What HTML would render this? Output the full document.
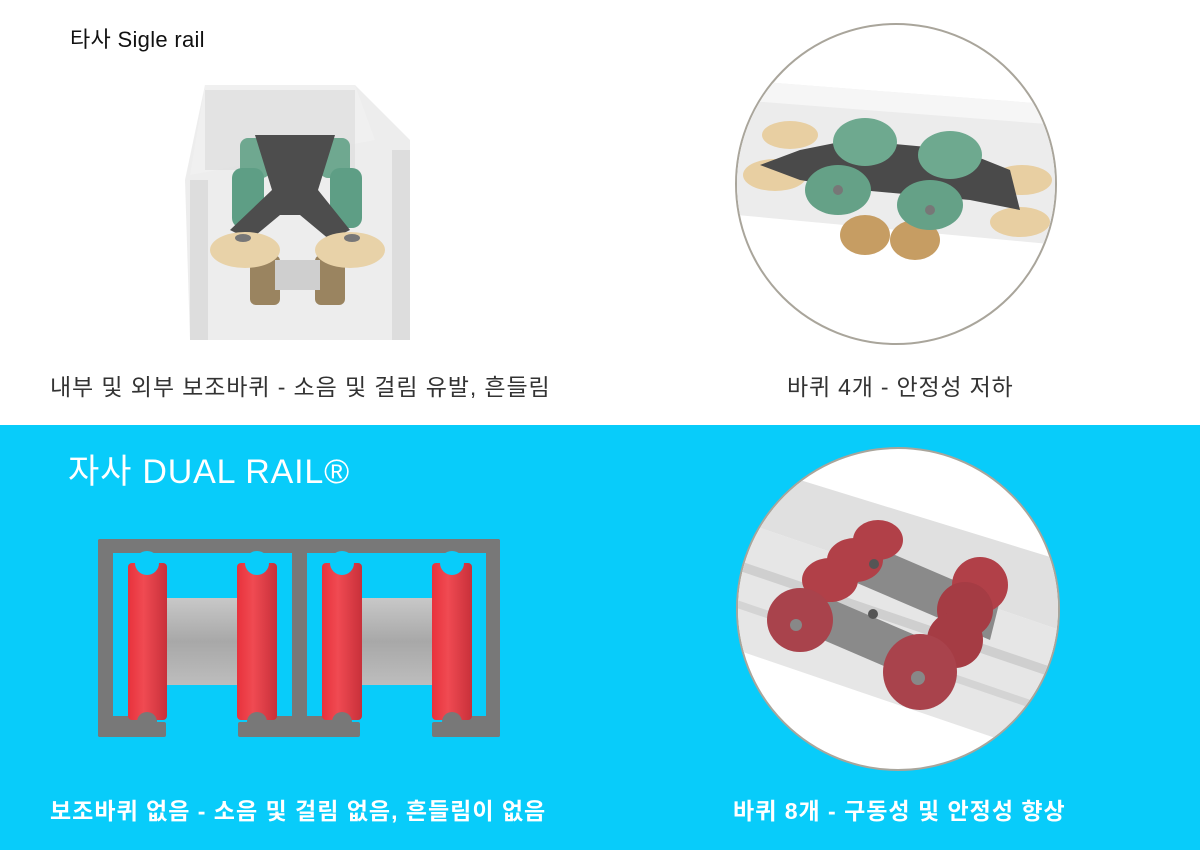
<!DOCTYPE html>
<html><head><meta charset="utf-8"><style>
html,body{margin:0;padding:0;}
body{width:1200px;height:850px;position:relative;overflow:hidden;background:#fff;font-family:"Liberation Sans","Noto Sans CJK KR",sans-serif;}
.t{position:absolute;white-space:nowrap;}
</style></head><body>
<svg width="1200" height="850" style="position:absolute;left:0;top:0">
<defs>
<linearGradient id="red" x1="0" x2="1"><stop offset="0" stop-color="#e8323c"/><stop offset="0.4" stop-color="#f04a52"/><stop offset="1" stop-color="#c8303a"/></linearGradient>
<linearGradient id="hub" x1="0" y1="0" x2="0" y2="1"><stop offset="0" stop-color="#c8c8c8"/><stop offset="0.5" stop-color="#a8a8a8"/><stop offset="1" stop-color="#bdbdbd"/></linearGradient>
<clipPath id="c1"><circle cx="896" cy="184" r="159"/></clipPath>
<clipPath id="c2"><circle cx="898" cy="609" r="160"/></clipPath>
</defs>
<rect x="0" y="425" width="1200" height="425" fill="#08ccfa"/>

<g>
<polygon points="205,85 355,85 410,140 410,340 190,340 185,180" fill="#e6e6e6" opacity="0.7"/>
<polygon points="205,85 355,85 375,140 190,175" fill="#f0f0f0"/>
<rect x="205" y="90" width="150" height="80" fill="#dadada" opacity="0.6"/>
<rect x="240" y="138" width="30" height="40" rx="8" fill="#6fa890"/>
<rect x="320" y="138" width="30" height="40" rx="8" fill="#6fa890"/>
<rect x="232" y="168" width="32" height="60" rx="10" fill="#5e9e85"/>
<rect x="330" y="168" width="32" height="60" rx="10" fill="#5e9e85"/>
<path d="M255,135 L335,135 L318,190 L350,230 L330,240 L300,215 L280,215 L250,240 L230,230 L272,190 Z" fill="#4d4d4d"/>
<rect x="250" y="255" width="30" height="50" rx="6" fill="#9a8460"/>
<rect x="315" y="255" width="30" height="50" rx="6" fill="#9a8460"/>
<ellipse cx="245" cy="250" rx="35" ry="18" fill="#e8d2a8"/>
<ellipse cx="350" cy="250" rx="35" ry="18" fill="#e8d2a8"/>
<ellipse cx="243" cy="238" rx="8" ry="4" fill="#777"/>
<ellipse cx="352" cy="238" rx="8" ry="4" fill="#777"/>
<rect x="275" y="260" width="45" height="30" fill="#cfcfcf"/>
<rect x="190" y="180" width="18" height="160" fill="#d8d8d8" opacity="0.8"/>
<rect x="392" y="150" width="18" height="190" fill="#d8d8d8" opacity="0.8"/>
</g>

<circle cx="896" cy="184" r="160" fill="#fff" stroke="#a9a59b" stroke-width="2"/>
<g clip-path="url(#c1)">
<polygon points="737,80 1060,105 1060,245 737,215" fill="#ececec"/>
<polygon points="737,80 1060,105 1060,125 737,100" fill="#f6f6f6"/>
<ellipse cx="775" cy="175" rx="32" ry="16" fill="#e8cfa2"/>
<ellipse cx="790" cy="135" rx="28" ry="14" fill="#e8cfa2"/>
<ellipse cx="1022" cy="180" rx="30" ry="15" fill="#e8cfa2"/>
<ellipse cx="1020" cy="222" rx="30" ry="15" fill="#e8cfa2"/>
<ellipse cx="865" cy="235" rx="25" ry="20" fill="#c69d63"/>
<ellipse cx="915" cy="240" rx="25" ry="20" fill="#c69d63"/>
<path d="M760,165 L800,150 L850,140 L960,150 L1010,170 L1020,210 L970,200 L860,190 L800,180 Z" fill="#4a4a4a"/>
<ellipse cx="865" cy="142" rx="32" ry="24" fill="#6ea98f"/>
<ellipse cx="950" cy="155" rx="32" ry="24" fill="#6ea98f"/>
<ellipse cx="838" cy="190" rx="33" ry="25" fill="#65a187"/>
<ellipse cx="930" cy="205" rx="33" ry="25" fill="#65a187"/>
<circle cx="838" cy="190" r="5" fill="#777"/><circle cx="930" cy="210" r="5" fill="#777"/>
</g>

<g fill="#787878">
<rect x="98" y="539" width="402" height="14" rx="2"/>
<rect x="98" y="539" width="15" height="198" rx="2"/>
<rect x="486" y="539" width="14" height="198" rx="2"/>
<rect x="292" y="539" width="15" height="190"/>
<rect x="98" y="722" width="68" height="15" rx="2"/>
<rect x="238" y="722" width="122" height="15" rx="2"/>
<rect x="432" y="722" width="68" height="15" rx="2"/>
<rect x="113" y="716" width="44" height="6"/><rect x="248" y="716" width="102" height="6"/>
<rect x="443" y="716" width="43" height="6"/>
</g>
<g>
<rect x="167" y="598" width="70" height="87" fill="url(#hub)"/>
<rect x="362" y="598" width="70" height="87" fill="url(#hub)"/>
<rect x="128" y="563" width="39" height="157" rx="4" fill="url(#red)"/>
<rect x="237" y="563" width="40" height="157" rx="4" fill="url(#red)"/>
<rect x="322" y="563" width="40" height="157" rx="4" fill="url(#red)"/>
<rect x="432" y="563" width="40" height="157" rx="4" fill="url(#red)"/>
<g fill="#08ccfa">
<circle cx="147" cy="563" r="12"/><circle cx="257" cy="563" r="12"/><circle cx="342" cy="563" r="12"/><circle cx="452" cy="563" r="12"/>
</g>
<g fill="#787878">
<circle cx="147" cy="722" r="10"/><circle cx="257" cy="722" r="10"/><circle cx="342" cy="722" r="10"/><circle cx="452" cy="722" r="10"/>
</g>
</g>

<circle cx="898" cy="609" r="161" fill="#fff" stroke="#a9a59b" stroke-width="2"/>
<g clip-path="url(#c2)">
<polygon points="737,520 1060,630 1060,760 737,650" fill="#e6e6e6"/>
<polygon points="800,480 1060,560 1060,630 737,520" fill="#e0e0e0"/>
<polygon points="737,560 1060,670 1060,680 737,570" fill="#cfcfcf"/>
<polygon points="737,600 1060,710 1060,718 737,608" fill="#d4d4d4"/>
<polygon points="860,540 1000,600 990,640 850,580" fill="#8a8a8a"/>
<polygon points="810,590 950,650 940,690 800,630" fill="#8a8a8a"/>
<ellipse cx="878" cy="540" rx="25" ry="20" fill="#b14048"/>
<ellipse cx="855" cy="560" rx="28" ry="22" fill="#b14048"/>
<ellipse cx="830" cy="580" rx="28" ry="22" fill="#b14048"/>
<ellipse cx="980" cy="585" rx="28" ry="28" fill="#b14048"/>
<ellipse cx="965" cy="610" rx="28" ry="28" fill="#a53c44"/>
<ellipse cx="955" cy="640" rx="28" ry="28" fill="#a53c44"/>
<ellipse cx="800" cy="620" rx="33" ry="32" fill="#a9434c"/>
<ellipse cx="920" cy="672" rx="37" ry="38" fill="#a9434c"/>
<circle cx="796" cy="625" r="6" fill="#888"/><circle cx="918" cy="678" r="7" fill="#888"/>
<circle cx="874" cy="564" r="5" fill="#555"/><circle cx="873" cy="614" r="5" fill="#555"/>
</g>
</svg>

<div class="t" style="left:58px;top:22px;font-size:22px;letter-spacing:0.3px;color:#111;background:#fff;padding:0 12px;">타사 Sigle rail</div>
<div class="t" style="left:50px;top:368px;font-size:23px;letter-spacing:0.9px;color:#333;">내부 및 외부 보조바퀴 - 소음 및 걸림 유발, 흔들림</div>
<div class="t" style="left:787px;top:368px;font-size:23px;letter-spacing:0.8px;color:#333;">바퀴 4개 - 안정성 저하</div>
<div class="t" style="left:68px;top:444px;font-size:34px;letter-spacing:0.8px;color:#fff;">자사 DUAL RAIL®</div>
<div class="t" style="left:50px;top:792px;font-size:23px;letter-spacing:1px;color:#fff;font-weight:bold;">보조바퀴 없음 - 소음 및 걸림 없음, 흔들림이 없음</div>
<div class="t" style="left:733px;top:792px;font-size:23px;letter-spacing:1px;color:#fff;font-weight:bold;">바퀴 8개 - 구동성 및 안정성 향상</div>
</body></html>
